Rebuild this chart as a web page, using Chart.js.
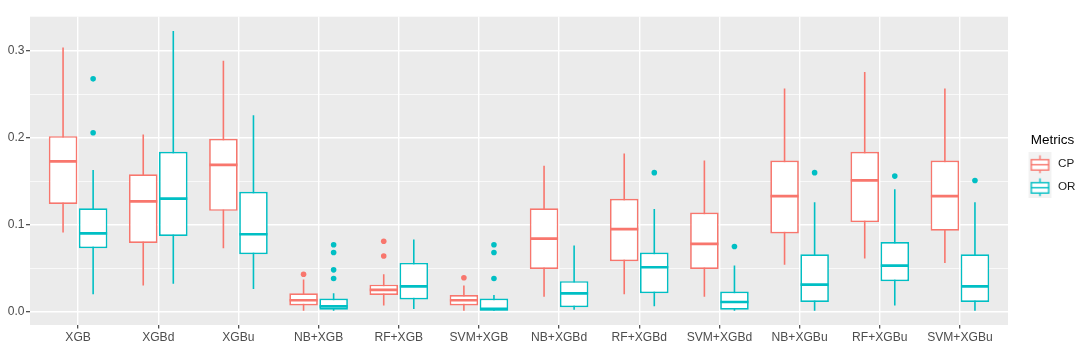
<!DOCTYPE html>
<html>
<head>
<meta charset="utf-8">
<script src="https://cdn.jsdelivr.net/npm/chart.js@4.4.1/dist/chart.umd.min.js"></script>
<style>
  html, body { margin: 0; padding: 0; background: #ffffff; }
  #chart { display: block; }
</style>
</head>
<body>
<canvas id="chart" width="1084" height="346"></canvas>
<script>
// --- data ---
const categories = ['XGB', 'XGBd', 'XGBu', 'NB+XGB', 'RF+XGB', 'SVM+XGB',
                    'NB+XGBd', 'RF+XGBd', 'SVM+XGBd', 'NB+XGBu', 'RF+XGBu', 'SVM+XGBu'];
const metrics = ['CP', 'OR'];

// CP boxes
const cpLow  = [0.091, 0.030, 0.073, 0.001, 0.007, 0.000, 0.017, 0.020, 0.017, 0.054, 0.061, 0.056];
const cpQ1   = [0.124, 0.079, 0.116, 0.007, 0.019, 0.007, 0.049, 0.058, 0.049, 0.090, 0.103, 0.093];
const cpMed  = [0.173, 0.127, 0.169, 0.013, 0.025, 0.013, 0.084, 0.095, 0.078, 0.133, 0.151, 0.133];
const cpQ3   = [0.202, 0.158, 0.199, 0.021, 0.031, 0.019, 0.119, 0.130, 0.114, 0.174, 0.184, 0.174];
const cpHigh = [0.304, 0.204, 0.289, 0.037, 0.043, 0.030, 0.168, 0.182, 0.174, 0.257, 0.276, 0.257];
const cpOutliers = [[], [], [], [0.043], [0.081, 0.064], [0.039], [], [], [], [], [], []];

// OR boxes
const orLow  = [0.020, 0.032, 0.026, 0.001, 0.003, 0.000, 0.002, 0.006, 0.000, 0.000, 0.007, 0.000];
const orQ1   = [0.073, 0.087, 0.066, 0.002, 0.014, 0.001, 0.005, 0.021, 0.002, 0.011, 0.035, 0.011];
const orMed  = [0.090, 0.130, 0.089, 0.006, 0.029, 0.003, 0.021, 0.051, 0.011, 0.031, 0.053, 0.029];
const orQ3   = [0.119, 0.184, 0.138, 0.015, 0.056, 0.015, 0.035, 0.068, 0.023, 0.066, 0.080, 0.066];
const orHigh = [0.163, 0.323, 0.226, 0.021, 0.083, 0.019, 0.076, 0.118, 0.053, 0.126, 0.141, 0.126];
const orOutliers = [[0.268, 0.206], [], [], [0.077, 0.068, 0.048, 0.038], [], [0.077, 0.068, 0.038],
                    [], [0.160], [0.075], [0.160], [0.156], [0.151]];

const yMajorTicks = [0, 0.1, 0.2, 0.3];
const yMinorTicks = [0.05, 0.15, 0.25];

// --- styling ---
const CP_COLOR = '#F8766D';
const OR_COLOR = '#00BFC4';
const DODGE = 0.75;             // ggplot dodge width
const SHIFT = DODGE / 4;        // centre of each half of the dodge
const TEXT_GREY = '#4D4D4D';
const AXIS_FONT = { size: 12.1 };

Chart.defaults.font.family = "'Liberation Sans', Arial, sans-serif";

const isMajor = v => yMajorTicks.some(m => Math.abs(m - v) < 1e-9);

function rangeData(lo, hi) {
    return lo.map((v, i) => ({ x: i, y: [v, hi[i]] }));
}

function medianData(med, shift) {
    return med.map((v, i) => ({ x: i + shift, y: v }));
}

function outlierData(out, shift) {
    const pts = [];
    out.forEach((list, i) => list.forEach(v => pts.push({ x: i + shift, y: v })));
    return pts;
}

// small boxplot glyph used as legend key
function legendKey(color) {
    const c = document.createElement('canvas');
    c.width = 48;
    c.height = 23;
    const g = c.getContext('2d');
    const cx = 22.5;
    g.fillStyle = '#F2F2F2';
    g.fillRect(cx - 11.5, 0, 23, 23);
    g.strokeStyle = color;
    g.lineWidth = 1.4;
    g.beginPath();
    g.moveTo(cx, 3.5); g.lineTo(cx, 7.8);
    g.moveTo(cx, 18.2); g.lineTo(cx, 21.3);
    g.stroke();
    g.fillStyle = '#FFFFFF';
    g.fillRect(cx - 8.7, 7.8, 17.4, 10.4);
    g.strokeRect(cx - 8.7, 7.8, 17.4, 10.4);
    g.beginPath();
    g.moveTo(cx - 8.7, 12.8); g.lineTo(cx + 8.7, 12.8);
    g.stroke();
    return c;
}
const legendKeys = [legendKey(CP_COLOR), legendKey(OR_COLOR)];
const metricColors = [CP_COLOR, OR_COLOR];

// grey panel behind the grid
const panelBackground = {
    id: 'panelBackground',
    beforeDraw(chart) {
        const { ctx, chartArea: a } = chart;
        ctx.save();
        ctx.fillStyle = '#EBEBEB';
        ctx.fillRect(a.left, a.top, a.right - a.left, a.bottom - a.top);
        ctx.restore();
    }
};

function boxSet(label, stack, lo, hi, color) {
    return {
        type: 'bar', label, stack, data: rangeData(lo, hi),
        backgroundColor: '#FFFFFF', borderColor: color, borderWidth: 1.7, borderSkipped: false,
        categoryPercentage: DODGE, barPercentage: 0.95, order: 1
    };
}

function whiskerSet(label, stack, lo, hi, color) {
    return {
        type: 'bar', label, stack, data: rangeData(lo, hi),
        backgroundColor: color, borderWidth: 0, inflateAmount: 0, maxBarThickness: 1.6,
        categoryPercentage: DODGE, barPercentage: 0.95, order: 2
    };
}

function medianSet(label, med, shift, color) {
    return {
        type: 'scatter', label, data: medianData(med, shift),
        pointStyle: 'line', pointRadius: 14, pointHoverRadius: 14,
        pointBorderWidth: 2.7, pointHoverBorderWidth: 2.7, pointBorderColor: color, order: 0
    };
}

function outlierSet(label, out, shift, color) {
    return {
        type: 'scatter', label, data: outlierData(out, shift),
        pointStyle: 'circle', pointRadius: 2.8, pointHoverRadius: 2.8,
        pointBackgroundColor: color, pointBorderWidth: 0, order: 0
    };
}

new Chart(document.getElementById('chart'), {
    type: 'bar',
    data: {
        datasets: [
            medianSet('CP median', cpMed, -SHIFT, CP_COLOR),
            medianSet('OR median', orMed, SHIFT, OR_COLOR),
            outlierSet('CP outliers', cpOutliers, -SHIFT, CP_COLOR),
            outlierSet('OR outliers', orOutliers, SHIFT, OR_COLOR),
            boxSet('CP', 'CP', cpQ1, cpQ3, CP_COLOR),
            boxSet('OR', 'OR', orQ1, orQ3, OR_COLOR),
            whiskerSet('CP whisker', 'CP', cpLow, cpHigh, CP_COLOR),
            whiskerSet('OR whisker', 'OR', orLow, orHigh, OR_COLOR)
        ]
    },
    options: {
        responsive: false,
        animation: false,
        devicePixelRatio: 1,
        layout: { padding: { top: 5, right: -1.5, bottom: 0, left: 0 } },
        plugins: {
            tooltip: { enabled: false },
            legend: {
                position: 'right',
                fullSize: false,
                align: 'center',
                title: {
                    display: true, text: 'Metrics', color: '#000000', position: 'center',
                    font: { size: 13.5 }, padding: { top: -4.6, bottom: -3.6 }
                },
                labels: {
                    usePointStyle: true,
                    pointStyleWidth: 21.3,
                    padding: 11.3,
                    color: '#1A1A1A',
                    font: { size: 11.7 },
                    generateLabels: () => metrics.map((m, i) => ({
                        text: m, pointStyle: legendKeys[i], fillStyle: 'transparent',
                        strokeStyle: metricColors[i], lineWidth: 0, hidden: false,
                        fontColor: '#1A1A1A', datasetIndex: 4 + i
                    }))
                }
            }
        },
        scales: {
            x: {
                type: 'linear', min: -0.6, max: 11.6, offset: false,
                afterBuildTicks: axis => { axis.ticks = categories.map((c, i) => ({ value: i })); },
                afterFit: axis => { axis.height = 21; },
                grid: {
                    color: '#FFFFFF', lineWidth: 1.4, offset: false,
                    tickLength: 3.5, tickColor: '#333333', tickWidth: 1.1
                },
                border: { display: false },
                ticks: {
                    autoSkip: false, maxRotation: 0, padding: 1.8, color: TEXT_GREY,
                    font: AXIS_FONT,
                    callback: v => categories[v]
                }
            },
            y: {
                type: 'linear', min: -0.0155, max: 0.3396, stacked: false, beginAtZero: false,
                afterBuildTicks: axis => {
                    axis.ticks = yMajorTicks.concat(yMinorTicks).sort((a, b) => a - b).map(v => ({ value: v }));
                },
                afterFit: axis => { axis.width = 30; },
                grid: {
                    color: '#FFFFFF',
                    lineWidth: ctx => (ctx.tick && isMajor(ctx.tick.value)) ? 1.4 : 0.7,
                    tickLength: 4,
                    tickColor: ctx => (ctx.tick && isMajor(ctx.tick.value)) ? '#333333' : 'rgba(0,0,0,0)',
                    tickWidth: 1.1
                },
                border: { display: false },
                ticks: {
                    padding: 1.5, color: TEXT_GREY, font: AXIS_FONT,
                    callback: v => isMajor(v) ? v.toFixed(1) : ''
                }
            },
            // empty spacer between the panel and the legend
            gap: {
                type: 'linear', position: 'right', display: true,
                grid: { display: false }, border: { display: false },
                ticks: { display: false },
                afterFit: axis => { axis.width = 11.5; }
            }
        }
    },
    plugins: [panelBackground]
});
</script>
</body>
</html>
